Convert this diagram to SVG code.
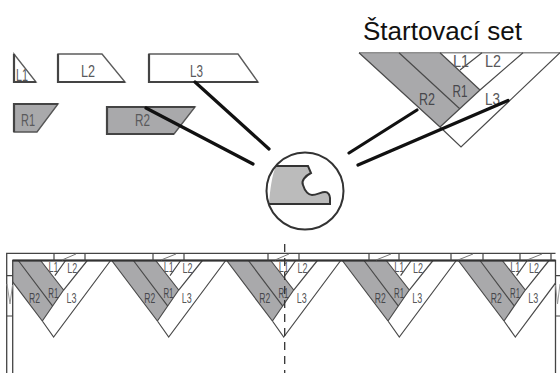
<svg xmlns="http://www.w3.org/2000/svg" xmlns:xlink="http://www.w3.org/1999/xlink" width="560" height="373" viewBox="0 0 560 373">
<style>
text{font-family:"Liberation Sans",Arial,sans-serif}
.g{fill:#a9a9ab;stroke:none}
.o{fill:none;stroke:#4a4a4a;stroke-width:1.2}
.lab{font-size:14px;fill:#58585a;text-anchor:middle}
.labd{font-size:14px;fill:#47474b;text-anchor:middle}
.sm{font-size:16px;fill:#59595b;text-anchor:middle}
.st{font-size:16px}
.k{stroke:#111;stroke-width:3.2;fill:none;stroke-linecap:round}
.p{fill:#fff;stroke:#5c5c5c;stroke-width:1.4}
.pg{fill:#a9a9ab;stroke:#565656;stroke-width:1.4}
.e{fill:none;stroke:#444;stroke-width:2.2}
.b{fill:none;stroke:#444;stroke-width:1.2}
</style>
<defs>
<clipPath id="wall"><rect x="12.700" y="250" width="542.800" height="123"/></clipPath>
<g id="mod">
<path class="g" d="M0 0H44L67 29.500L45.700 60.500Z"/>
<path class="o" d="M0 0L45.700 60.500M21.700 0L55.700 45.200M44 0L67 29.500M45.700 60.500L67 29.500L90.700 0M45.700 60.500L57 76.500L114 0M58.300 15.200L69 0"/>
<text class="labd" x="38" y="42" textLength="11" lengthAdjust="spacingAndGlyphs">R2</text>
<text class="labd" x="56.700" y="37" textLength="10" lengthAdjust="spacingAndGlyphs">R1</text>
<text class="lab" x="75" y="42" textLength="10" lengthAdjust="spacingAndGlyphs">L3</text>
<text class="lab" x="75.700" y="12" textLength="10" lengthAdjust="spacingAndGlyphs">L2</text>
<text class="lab" x="57" y="11" textLength="10" lengthAdjust="spacingAndGlyphs">L1</text>
</g>
</defs>
<g id="title"><text x="363" y="40" font-size="26" fill="#111">Štartovací set</text></g>
<g id="L1"><path class="p" d="M14 54V82H36Z"/><path class="e" d="M14 54V82H36"/><text class="sm" x="22" y="81" textLength="12" lengthAdjust="spacingAndGlyphs">L1</text></g>
<g id="L2"><path class="p" d="M58 54H102L125 82H58Z"/><path class="e" d="M58 54V82H125"/><text class="sm" x="88" y="76.500" textLength="14" lengthAdjust="spacingAndGlyphs">L2</text></g>
<g id="L3"><path class="p" d="M149 54H238L258 82H149Z"/><path class="e" d="M149 54V82H258"/><text class="sm" x="196.500" y="76.500" textLength="13" lengthAdjust="spacingAndGlyphs">L3</text></g>
<g id="R1"><path class="pg" d="M14 104H58L37 132H14Z"/><path class="e" d="M58 104H14V132"/><text class="sm" x="28" y="126" textLength="14" lengthAdjust="spacingAndGlyphs">R1</text></g>
<g id="R2"><path class="pg" d="M107 107H195L174 134H107Z"/><path class="e" d="M195 107H107V134H174"/><text class="sm" x="142.500" y="126" textLength="15" lengthAdjust="spacingAndGlyphs">R2</text></g>
<g id="starter">
<path class="g" d="M359 52.700H440L480 90L440 127Z"/>
<path d="M359 52.700H560" stroke="#8e8e8e" stroke-width="1.500" fill="none"/>
<path class="o" d="M359 52.700L440 127M399 52.700L460 109M440 52.700L480 90M440 127L480 90L523 52.700M440 127L461 147L560 52.700M460 70L482 52.700"/>
<text class="labd st" x="427" y="105" textLength="16" lengthAdjust="spacingAndGlyphs">R2</text>
<text class="labd st" x="460" y="97" textLength="15" lengthAdjust="spacingAndGlyphs">R1</text>
<text class="lab st" x="492.500" y="105" textLength="15" lengthAdjust="spacingAndGlyphs">L3</text>
<text class="lab st" x="493" y="67" textLength="16" lengthAdjust="spacingAndGlyphs">L2</text>
<text class="lab st" x="461" y="67" textLength="16" lengthAdjust="spacingAndGlyphs">L1</text>
</g>
<g id="connectors">
<path class="k" d="M195 82L269 149M146 108L253 164M349 153L417 110M358 165L508 100.500"/>
</g>
<g id="profile">
<path d="M276 166H308L311 173C305 176 301 181 303 185C305 192 309 195 312 195C317 195 321 192 325 192C328 192 330 195 330 198V204H269C270 190 272 175 276 166Z" fill="#bbb"/>
<path d="M276 166H308L311 173C305 176 301 181 303 185C305 192 309 195 312 195C317 195 321 192 325 192C328 192 330 195 330 198V204H269" fill="none" stroke="#333" stroke-width="2"/>
<circle cx="305" cy="191" r="38.500" fill="none" stroke="#333" stroke-width="2"/>
</g>
<g id="floor">
<g clip-path="url(#wall)">
<use xlink:href="#mod" href="#mod" x="-3.400" y="260.500"/>
<use xlink:href="#mod" href="#mod" x="111.700" y="260.500"/>
<use xlink:href="#mod" href="#mod" x="226.700" y="260.500"/>
<use xlink:href="#mod" href="#mod" x="342.300" y="260.500"/>
<use xlink:href="#mod" href="#mod" x="458.300" y="260.500"/>
</g>
<path d="M6.700 373V253.300H555.500M12.700 373V260.500H555.500V373" fill="none" stroke="#444" stroke-width="1.300"/>
<path d="M12.700 260.500H555.500" stroke="#333" stroke-width="2" fill="none"/>
<path class="b" d="M54 253.300V260.500M85 253.300V260.500M153 253.300V260.500M184 253.300V260.500M268 253.300V260.500M299 253.300V260.500M369 253.300V260.500M399 253.300V260.500M451 253.300V260.500M483 253.300V260.500M520 253.300V260.500M551 253.300V260.500"/>
<path d="M62 260L76 254M161 260L176 254M275 260L289 254M376 260L391 254M458 260L473 254M527 260L542 254" stroke="#777" fill="none"/>
<path class="b" d="M6.700 275.700H12.700M6.700 316H12.700M555.500 275.700H560M555.500 316H560"/>
<path d="M7 284L10 304L12.500 285M560 284L557.500 304L555.500 285" stroke="#999" fill="none"/>
<path d="M284.700 244V373" stroke="#333" stroke-width="1.300" stroke-dasharray="8 6" fill="none"/>
</g>
</svg>
